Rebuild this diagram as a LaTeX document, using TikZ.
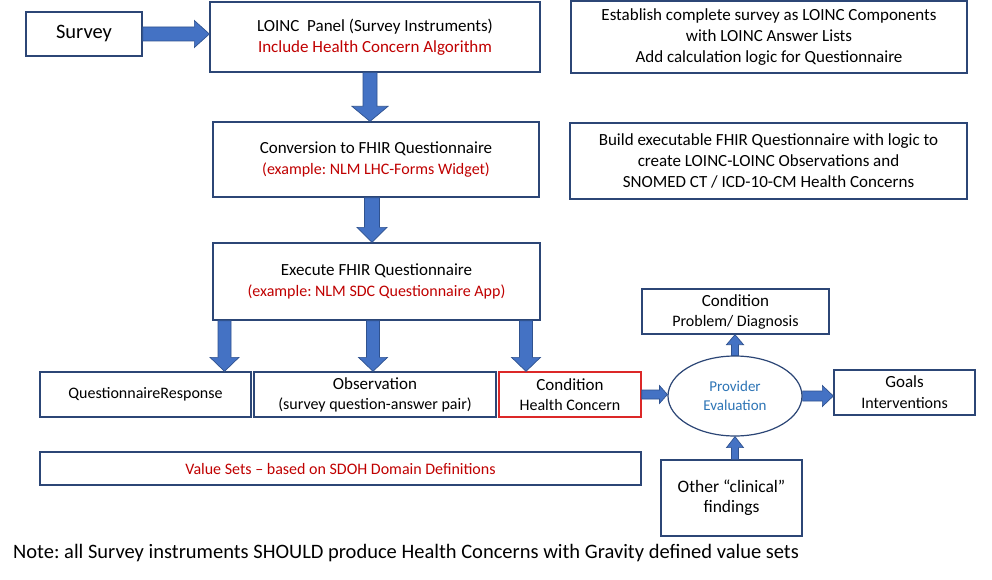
\documentclass[tikz,border=0pt]{standalone}
\usepackage{fontspec}
\setmainfont{Carlito}
\frenchspacing
\usetikzlibrary{calc,shapes.geometric}
\definecolor{navy}{RGB}{44,70,118}
\definecolor{afill}{RGB}{68,114,196}
\definecolor{aline}{RGB}{47,82,143}
\definecolor{dred}{RGB}{192,0,0}
\definecolor{bred}{RGB}{220,40,40}
\definecolor{pblue}{RGB}{46,117,182}
% #1 start, #2 end, #3 shaft half width, #4 head half width, #5 head length
\newcommand\blockarrow[5]{%
  \coordinate (tmpH) at ($(#2)!#5!(#1)$);
  \path[barrow] ($(#1)!#3!90:(#2)$) -- ($(tmpH)!#3!90:(#2)$) -- ($(tmpH)!#4!90:(#2)$)
    -- (#2) -- ($(tmpH)!#4!-90:(#2)$) -- ($(tmpH)!#3!-90:(#2)$) -- ($(#1)!#3!-90:(#2)$) -- cycle;
}
\begin{document}
\begin{tikzpicture}[x=1pt,y=-1pt,
  box/.style={draw=navy, line width=1.3pt, fill=white, inner sep=0pt, align=center,
    font=\fontsize{17}{21}\selectfont},
  barrow/.style={fill=afill, draw=aline, line width=0.7pt, line join=miter}]
\fill[white] (0,0) rectangle (992,580);
\useasboundingbox (0,0) rectangle (992,580);

\node[box, minimum width=116, minimum height=44, font=\fontsize{20.5}{24}\selectfont] (survey) at (84,34) {Survey};
\node[box, minimum width=330, minimum height=70] (loinc) at (375,37)
  {LOINC\ \ Panel (Survey Instruments)\\\textcolor{dred}{Include Health Concern Algorithm}};
\node[box, minimum width=326, minimum height=75] (conv) at (376,159.5)
  {Conversion to FHIR Questionnaire\\{\fontsize{16}{21}\selectfont\color{dred}(example: NLM LHC-Forms Widget)}};
\node[box, minimum width=327, minimum height=77] (exec) at (376.5,281.5)
  {Execute FHIR Questionnaire\\{\fontsize{16}{21}\selectfont\color{dred}(example: NLM SDC Questionnaire App)}};
\node[box, minimum width=396, minimum height=72] (estab) at (769,37)
  {Establish complete survey as LOINC Components\\with LOINC Answer Lists\\Add calculation logic for Questionnaire};
\node[box, minimum width=397, minimum height=76] (build) at (768.5,161)
  {Build executable FHIR Questionnaire with logic to\\create LOINC-LOINC Observations and\\SNOMED CT / ICD-10-CM Health Concerns};
\node[box, minimum width=211, minimum height=45, font=\fontsize{16}{20}\selectfont] (qr) at (145.5,394.5) {QuestionnaireResponse};
\node[box, minimum width=242, minimum height=45, font=\fontsize{17}{20}\selectfont] (obs) at (375,394.5)
  {Observation\\{\fontsize{16}{20}\selectfont(survey question-answer pair)}};
\node[box, draw=bred, minimum width=142, minimum height=45, font=\fontsize{17}{20}\selectfont] (cond) at (570,394.5)
  {Condition\\{\fontsize{16}{20}\selectfont Health Concern}};
\node[box, minimum width=601, minimum height=33, font=\fontsize{16}{20}\selectfont, text=dred] (vs) at (340.5,468.5)
  {Value Sets – based on SDOH Domain Definitions};
\node[box, minimum width=187, minimum height=45, font=\fontsize{17}{20}\selectfont] (condp) at (735.5,311.5)
  {Condition\\{\fontsize{16}{20}\selectfont Problem/ Diagnosis}};
\node[draw=navy, line width=1.2pt, fill=white, ellipse, minimum width=134, minimum height=80, inner sep=0pt,
  align=center, font=\fontsize{15}{19}\selectfont, text=pblue] (ell) at (735,396) {Provider\\Evaluation};
\node[box, minimum width=141, minimum height=45] (goals) at (904.5,392.5)
  {Goals\\{\fontsize{16}{21}\selectfont Interventions}};
\node[box, minimum width=141, minimum height=76, font=\fontsize{17.5}{20}\selectfont] (other) at (731.5,498)
  {Other “clinical”\\findings};
\node[anchor=base west, inner sep=0pt, font=\fontsize{20.5}{24}\selectfont] (note) at (13,558)
  {Note: all Survey instruments SHOULD produce Health Concerns with Gravity defined value sets};

% arrow end points
\coordinate (xa) at (370,0);
\coordinate (xb) at (372,0);
\coordinate (xc) at (224.5,0);
\coordinate (xd) at (373,0);
\coordinate (xe) at (526,0);

\coordinate (a1s) at (survey.east);
\coordinate (a1e) at (loinc.west |- survey.east);
\coordinate (a2s) at (loinc.south -| xa);
\coordinate (a2e) at (conv.north -| xa);
\coordinate (a3s) at (conv.south -| xb);
\coordinate (a3e) at (exec.north -| xb);
\coordinate (a4s) at (exec.south -| xc);
\coordinate (a4e) at (qr.north -| xc);
\coordinate (a5s) at (exec.south -| xd);
\coordinate (a5e) at (obs.north -| xd);
\coordinate (a6s) at (exec.south -| xe);
\coordinate (a6e) at (cond.north -| xe);
\coordinate (a7s) at (cond.east);
\coordinate (a7e) at (ell.west |- cond.east);
\coordinate (a8s) at (ell.east);
\coordinate (a8e) at (goals.west |- ell.east);
\coordinate (a9s) at (ell.north);
\coordinate (a9e) at (condp.south -| ell.north);
\coordinate (a10s) at (other.north -| ell.south);
\coordinate (a10e) at (ell.south);

\blockarrow{a1s}{a1e}{7pt}{13.5pt}{15pt}
\blockarrow{a2s}{a2e}{7pt}{18pt}{15pt}
\blockarrow{a3s}{a3e}{7.5pt}{15pt}{15pt}
\blockarrow{a4s}{a4e}{6.5pt}{14.5pt}{14pt}
\blockarrow{a5s}{a5e}{6.5pt}{14.5pt}{14pt}
\blockarrow{a6s}{a6e}{6.5pt}{14.5pt}{14pt}
\blockarrow{a7s}{a7e}{4.5pt}{9pt}{8pt}
\blockarrow{a8s}{a8e}{5pt}{10.5pt}{11pt}
\blockarrow{a9s}{a9e}{3.5pt}{8.5pt}{10pt}
\blockarrow{a10s}{a10e}{3.5pt}{8.5pt}{11pt}
\end{tikzpicture}
\end{document}
